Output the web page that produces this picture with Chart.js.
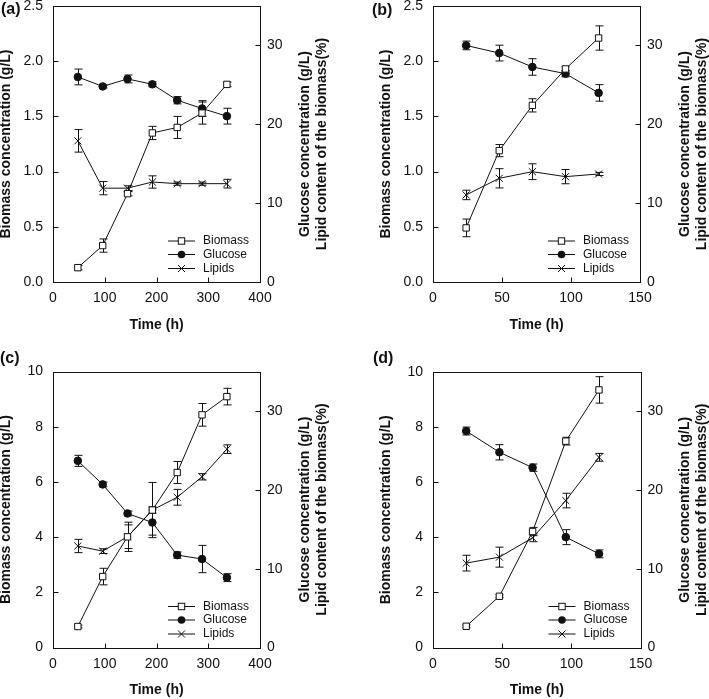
<!DOCTYPE html>
<html>
<head>
<meta charset="utf-8">
<script src="https://cdn.jsdelivr.net/npm/chart.js@4.4.0/dist/chart.umd.min.js"></script>
<style>
body { margin: 0; background: #fff; }
#wrap { position: relative; width: 709px; height: 699px; overflow: hidden; }
canvas { position: absolute; }
</style>
</head>
<body>
<div id="wrap">
  <canvas id="ca" width="355" height="340" style="left:0;top:0"></canvas>
  <canvas id="cb" width="354" height="340" style="left:355px;top:0"></canvas>
  <canvas id="cc" width="355" height="359" style="left:0;top:340px"></canvas>
  <canvas id="cd" width="354" height="359" style="left:355px;top:340px"></canvas>
</div>
<script>
// time points (h)
var timeAC = [48, 96, 144, 192, 240, 288, 336];
var timeBD = [24, 48, 72, 96, 120];

// (a)
var biomassA = [0.13, 0.33, 0.80, 1.35, 1.40, 1.53, 1.79];
var biomassErrA = [0.02, 0.06, 0.02, 0.06, 0.10, 0.10, 0.02];
var glucoseA = [26.0, 24.8, 25.75, 25.07, 23.05, 22.0, 21.03];
var glucoseErrA = [1.0, 0.2, 0.5, 0.3, 0.46, 1.0, 1.0];
var lipidsA = [17.9, 11.9, 11.9, 12.68, 12.47, 12.47, 12.47];
var lipidsErrA = [1.43, 0.84, 0.3, 0.78, 0.2, 0.2, 0.55];

// (b)
var biomassB = [0.49, 1.19, 1.60, 1.93, 2.21];
var biomassErrB = [0.08, 0.055, 0.06, 0.02, 0.11];
var glucoseB = [30.0, 29.03, 27.27, 26.42, 23.98];
var glucoseErrB = [0.55, 1.0, 1.05, 0.4, 1.05];
var lipidsB = [11.04, 13.15, 13.99, 13.36, 13.7];
var lipidsErrB = [0.6, 1.22, 1.0, 0.9, 0.2];

// (c)
var biomassC = [0.76, 2.57, 4.01, 4.98, 6.34, 8.43, 9.09];
var biomassErrC = [0.05, 0.3, 0.53, 1.0, 0.4, 0.41, 0.3];
var glucoseC = [23.67, 20.68, 17.0, 15.85, 11.72, 11.22, 8.86];
var glucoseErrC = [0.7, 0.3, 0.3, 1.6, 0.4, 1.73, 0.5];
var lipidsC = [12.87, 12.22, 14.05, 17.43, 19.05, 21.65, 25.15];
var lipidsErrC = [0.84, 0.3, 1.5, 0.4, 1.0, 0.4, 0.55];

// (d)
var biomassD = [0.77, 1.86, 4.21, 7.49, 9.35];
var biomassErrD = [0.05, 0.05, 0.15, 0.14, 0.48];
var glucoseD = [27.5, 24.8, 22.85, 14.02, 11.9];
var glucoseErrD = [0.5, 0.97, 0.46, 0.95, 0.5];
var lipidsD = [10.72, 11.48, 13.94, 18.67, 24.16];
var lipidsErrD = [1.0, 1.27, 0.5, 0.93, 0.5];

var seriesNames = ['Biomass', 'Glucose', 'Lipids'];
var xTitle = 'Time (h)';
var yTitle = 'Biomass concentration (g/L)';
var y2Title = ['Glucose concentration (g/L)', 'Lipid content of the biomass(%)'];

var FONT = "'Liberation Sans', Arial, sans-serif";
var INK = '#111';

function pts(xs, ys) {
  return xs.map(function (x, i) { return { x: x, y: ys[i] }; });
}

function drawMarker(ctx, style, x, y) {
  ctx.save();
  ctx.lineWidth = 1;
  ctx.strokeStyle = INK;
  if (style === 'rect') {
    ctx.fillStyle = '#fff';
    ctx.fillRect(x - 3.2, y - 3.2, 6.4, 6.4);
    ctx.strokeRect(x - 3.2, y - 3.2, 6.4, 6.4);
  } else if (style === 'circle') {
    ctx.fillStyle = INK;
    ctx.beginPath();
    ctx.arc(x, y, 3.8, 0, Math.PI * 2);
    ctx.fill();
  } else {
    ctx.beginPath();
    ctx.moveTo(x - 3.5, y - 3.5); ctx.lineTo(x + 3.5, y + 3.5);
    ctx.moveTo(x + 3.5, y - 3.5); ctx.lineTo(x - 3.5, y + 3.5);
    ctx.stroke();
  }
  ctx.restore();
}

var decor = {
  id: 'decor',
  beforeDatasetsDraw: function (chart) {
    // error bars
    var ctx = chart.ctx;
    var xs = chart.scales.x;
    ctx.save();
    ctx.strokeStyle = INK;
    ctx.lineWidth = 1;
    chart.data.datasets.forEach(function (ds) {
      var ys = chart.scales[ds.yAxisID];
      ds.data.forEach(function (p, i) {
        var e = ds.errors[i];
        var px = Math.round(xs.getPixelForValue(p.x)) + 0.5;
        var y1 = ys.getPixelForValue(p.y + e);
        var y2 = ys.getPixelForValue(p.y - e);
        ctx.beginPath();
        ctx.moveTo(px, y1); ctx.lineTo(px, y2);
        ctx.moveTo(px - 4, y1); ctx.lineTo(px + 4, y1);
        ctx.moveTo(px - 4, y2); ctx.lineTo(px + 4, y2);
        ctx.stroke();
      });
    });
    ctx.restore();
  },
  afterDraw: function (chart) {
    var ctx = chart.ctx;
    var a = chart.chartArea;
    var o = chart.options.plugins.decor;
    ctx.save();
    ctx.strokeStyle = INK;
    ctx.lineWidth = 1;
    // frame
    var L = Math.round(a.left) + 0.5, R = Math.round(a.right) + 0.5;
    var T = Math.round(a.top) + 0.5, B = Math.round(a.bottom) + 0.5;
    ctx.strokeRect(L, T, R - L, B - T);
    // inside tick marks
    ctx.beginPath();
    chart.scales.x.ticks.forEach(function (t) {
      var px = Math.round(chart.scales.x.getPixelForValue(t.value)) + 0.5;
      ctx.moveTo(px, B); ctx.lineTo(px, B - 5);
    });
    chart.scales.y.ticks.forEach(function (t) {
      var py = Math.round(chart.scales.y.getPixelForValue(t.value)) + 0.5;
      ctx.moveTo(L, py); ctx.lineTo(L + 5, py);
    });
    chart.scales.y2.ticks.forEach(function (t) {
      var py = Math.round(chart.scales.y2.getPixelForValue(t.value)) + 0.5;
      ctx.moveTo(R, py); ctx.lineTo(R - 5, py);
    });
    ctx.stroke();

    // titles
    ctx.fillStyle = INK;
    ctx.font = 'bold 14px ' + FONT;
    ctx.textAlign = 'center';
    ctx.textBaseline = 'middle';
    var midX = (a.left + a.right) / 2, midY = (a.top + a.bottom) / 2;
    ctx.fillText(xTitle, midX, a.bottom + 43);
    ctx.save();
    ctx.translate(a.left - 47, midY);
    ctx.rotate(-Math.PI / 2);
    ctx.fillText(yTitle, 0, 0);
    ctx.restore();
    ctx.save();
    ctx.translate(a.right + 45, midY);
    ctx.rotate(-Math.PI / 2);
    ctx.fillText(y2Title[0], 0, 0);
    ctx.fillText(y2Title[1], 0, 17);
    ctx.restore();

    // panel letter
    ctx.font = 'bold 16px ' + FONT;
    ctx.textAlign = 'left';
    ctx.fillText(o.letter, o.lx, o.ly);

    // legend
    ctx.font = '12px ' + FONT;
    var rows = [41, 27.5, 13.5];
    chart.data.datasets.forEach(function (ds, i) {
      var y = a.bottom - rows[i];
      ctx.beginPath();
      ctx.moveTo(a.right - 92, y); ctx.lineTo(a.right - 65, y);
      ctx.stroke();
      drawMarker(ctx, ds.pointStyle, a.right - 78.5, y);
      ctx.fillStyle = INK;
      ctx.fillText(ds.label, a.right - 57, y);
    });
    ctx.restore();
  }
};

function panel(id, p) {
  var canvas = document.getElementById(id);
  var W = canvas.width, H = canvas.height;
  var tickFont = { family: FONT, size: 14 };
  var base = {
    borderColor: INK, borderWidth: 1, pointBorderColor: INK,
    pointBorderWidth: 1, pointHoverRadius: 0, tension: 0, clip: false
  };
  return new Chart(canvas, {
    type: 'line',
    data: {
      datasets: [
        Object.assign({}, base, {
          label: seriesNames[0], data: pts(p.time, p.biomass), errors: p.biomassErr,
          yAxisID: 'y', pointStyle: 'rect', pointRadius: 4.5, pointBackgroundColor: '#fff'
        }),
        Object.assign({}, base, {
          label: seriesNames[1], data: pts(p.time, p.glucose), errors: p.glucoseErr,
          yAxisID: 'y2', pointStyle: 'circle', pointRadius: 3.8, pointBackgroundColor: INK
        }),
        Object.assign({}, base, {
          label: seriesNames[2], data: pts(p.time, p.lipids), errors: p.lipidsErr,
          yAxisID: 'y2', pointStyle: 'crossRot', pointRadius: 5, pointBackgroundColor: INK
        })
      ]
    },
    options: {
      responsive: false,
      animation: false,
      events: [],
      layout: { padding: { top: p.area.t, left: 0, right: 0, bottom: 0 } },
      plugins: {
        legend: { display: false },
        tooltip: { enabled: false },
        decor: { letter: p.letter, lx: p.lx, ly: p.ly }
      },
      scales: {
        x: {
          type: 'linear', position: 'bottom', min: 0, max: p.xMax,
          grid: { display: false, drawTicks: false }, border: { display: false },
          ticks: { stepSize: p.xStep, font: tickFont, color: INK, padding: 8, maxRotation: 0, autoSkip: false },
          afterFit: function (s) { s.height = H - p.area.b; s.paddingLeft = 0; s.paddingRight = 0; }
        },
        y: {
          type: 'linear', position: 'left', min: 0, max: p.yMax,
          grid: { display: false, drawTicks: false }, border: { display: false },
          ticks: {
            stepSize: p.yStep, font: tickFont, color: INK, padding: 10,
            callback: function (v) { return v.toFixed(p.dec); }
          },
          afterFit: function (s) { s.width = p.area.l; s.paddingTop = 0; s.paddingBottom = 0; }
        },
        y2: {
          type: 'linear', position: 'right', min: 0, max: 35,
          grid: { display: false, drawTicks: false }, border: { display: false },
          ticks: { stepSize: 10, includeBounds: false, font: tickFont, color: INK, padding: 7 },
          afterFit: function (s) { s.width = W - p.area.r; s.paddingTop = 0; s.paddingBottom = 0; }
        }
      }
    },
    plugins: [decor]
  });
}

panel('ca', {
  time: timeAC, biomass: biomassA, biomassErr: biomassErrA, glucose: glucoseA, glucoseErr: glucoseErrA,
  lipids: lipidsA, lipidsErr: lipidsErrA,
  area: { l: 53, t: 5, r: 260, b: 282 }, xMax: 400, xStep: 100, yMax: 2.5, yStep: 0.5, dec: 1,
  letter: '(a)', lx: 1, ly: 10
});
panel('cb', {
  time: timeBD, biomass: biomassB, biomassErr: biomassErrB, glucose: glucoseB, glucoseErr: glucoseErrB,
  lipids: lipidsB, lipidsErr: lipidsErrB,
  area: { l: 78, t: 5, r: 285, b: 282 }, xMax: 150, xStep: 50, yMax: 2.5, yStep: 0.5, dec: 1,
  letter: '(b)', lx: 17, ly: 11
});
panel('cc', {
  time: timeAC, biomass: biomassC, biomassErr: biomassErrC, glucose: glucoseC, glucoseErr: glucoseErrC,
  lipids: lipidsC, lipidsErr: lipidsErrC,
  area: { l: 53, t: 31.5, r: 260, b: 307.5 }, xMax: 400, xStep: 100, yMax: 10, yStep: 2, dec: 0,
  letter: '(c)', lx: 0, ly: 19
});
panel('cd', {
  time: timeBD, biomass: biomassD, biomassErr: biomassErrD, glucose: glucoseD, glucoseErr: glucoseErrD,
  lipids: lipidsD, lipidsErr: lipidsErrD,
  area: { l: 78, t: 32, r: 285.5, b: 307.5 }, xMax: 150, xStep: 50, yMax: 10, yStep: 2, dec: 0,
  letter: '(d)', lx: 18, ly: 19
});
</script>
</body>
</html>
